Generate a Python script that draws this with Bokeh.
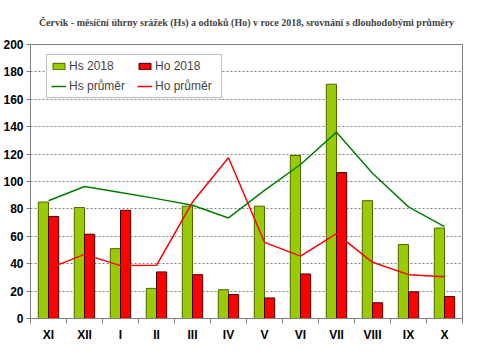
from bokeh.plotting import figure
from bokeh.models import (ColumnDataSource, Range1d, FixedTicker, Legend, LegendItem)
from bokeh.embed import file_html
from bokeh.resources import INLINE

# ---- data ----
months = ["XI", "XII", "I", "II", "III", "IV", "V", "VI", "VII", "VIII", "IX", "X"]
hs_2018 = [85, 81, 51, 22, 82, 21, 82, 119, 171, 86, 54, 66]
ho_2018 = [74.5, 61.5, 79, 34, 32, 17.5, 15, 32.5, 106.5, 11.5, 19.5, 16]
hs_prumer = [86, 96.4, 92, 87.5, 82.7, 73.4, 93.5, 112.4, 136, 106, 81.5, 67]
ho_prumer = [36.4, 46.8, 38.6, 38.8, 85, 117.3, 55.6, 45.5, 62, 41, 32, 30.4]
y_ticks = list(range(0, 201, 20))

title_text = ("Červík - měsíční úhrny srážek (Hs) a odtoků (Ho) v roce 2018, "
              "srovnání s dlouhodobými průměry")

BAR_W = 0.283
xc = [i + 0.5 for i in range(len(months))]
src = ColumnDataSource(dict(
    x=xc,
    x_hs=[x - BAR_W / 2 for x in xc],
    x_ho=[x + BAR_W / 2 for x in xc],
    hs=hs_2018, ho=ho_2018, hsp=hs_prumer, hop=ho_prumer,
))

FRAME_H = 277
p = figure(width=464, height=344, x_range=Range1d(0, len(months)), y_range=Range1d(0, 200),
           output_backend="svg", toolbar_location=None,
           min_border_left=26, min_border_right=2, min_border_top=44, min_border_bottom=20)
p.background_fill_color = "white"
p.border_fill_color = "white"
p.outline_line_color = "#808080"

p.title.text = title_text
p.title.text_font = "Liberation Serif"
p.title.text_font_style = "bold"
p.title.text_font_size = "10px"
p.title.align = "center"
p.title.vertical_align = "top"
p.title.standoff = 30

r_hs = p.vbar(x="x_hs", top="hs", width=BAR_W, source=src, fill_color="#99CC00",
              line_color="#4D6600", line_width=1)
r_ho = p.vbar(x="x_ho", top="ho", width=BAR_W, source=src, fill_color="#FF0000",
              line_color="#400000", line_width=1)
l_hs = p.line(x="x", y="hsp", source=src, line_color="#008000", line_width=1.5)
l_ho = p.line(x="x", y="hop", source=src, line_color="#FF0000", line_width=1.5)

# axes
xa = p.xaxis[0]
xa.ticker = FixedTicker(ticks=xc, minor_ticks=list(range(len(months) + 1)))
xa.major_label_overrides = {x: m for x, m in zip(xc, months)}
xa.major_tick_out = 0
xa.major_tick_in = 0
xa.minor_tick_out = 5
xa.minor_tick_in = 0
xa.minor_tick_line_color = "#808080"
xa.axis_line_color = "#808080"
xa.major_label_standoff = 4
xa.major_label_text_font = "Liberation Sans"
xa.major_label_text_font_style = "bold"
xa.major_label_text_font_size = "12px"
xa.major_label_text_color = "black"

ya = p.yaxis[0]
ya.ticker = FixedTicker(ticks=y_ticks)
ya.major_tick_out = 4
ya.major_tick_in = 0
ya.minor_tick_line_color = None
ya.major_tick_line_color = "#808080"
ya.axis_line_color = "#808080"
ya.major_label_standoff = 3
ya.major_label_text_font = "Liberation Sans"
ya.major_label_text_font_style = "bold"
ya.major_label_text_font_size = "12px"
ya.major_label_text_color = "black"

p.xgrid.visible = False
p.ygrid.ticker = FixedTicker(ticks=y_ticks)
p.ygrid.grid_line_color = "#808080"
p.ygrid.grid_line_dash = "2 2"
p.ygrid.grid_line_width = 1

legend = Legend(items=[
    LegendItem(label="Hs 2018", renderers=[r_hs]),
    LegendItem(label="Hs průměr", renderers=[l_hs]),
    LegendItem(label="Ho 2018", renderers=[r_ho]),
    LegendItem(label="Ho průměr", renderers=[l_ho]),
], location=(16, FRAME_H - 13 - 44), nrows=2, orientation="vertical")
legend.margin = 0
legend.padding = 4
legend.spacing = 6
legend.glyph_width = 15
legend.glyph_height = 8
legend.label_height = 14
legend.label_width = 62
legend.label_standoff = 3
legend.label_text_font = "Liberation Sans"
legend.label_text_font_size = "12px"
legend.border_line_color = "#808080"
legend.border_line_width = 1
legend.background_fill_color = "white"
legend.background_fill_alpha = 1
p.add_layout(legend, "center")

open("out.html", "w").write(file_html(p, INLINE))
